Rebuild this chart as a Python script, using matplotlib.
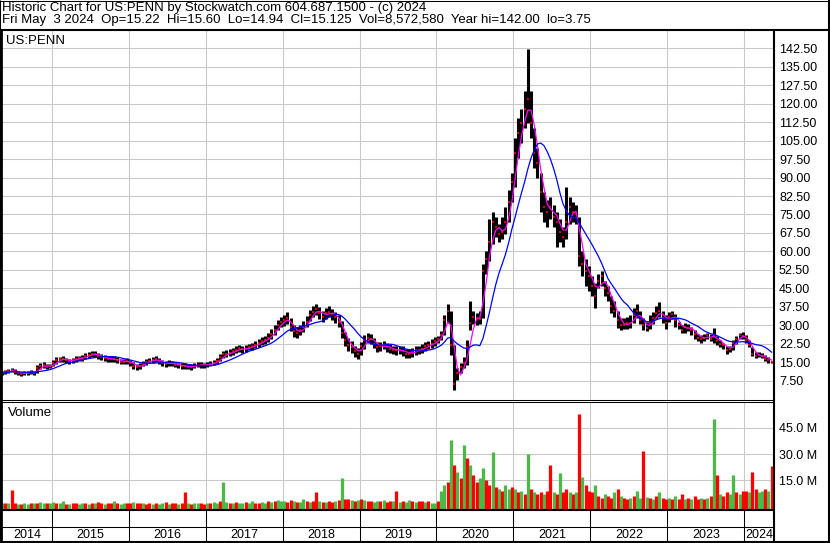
#!/usr/bin/env python3
"""Stockwatch-style historic chart for US:PENN (price bars, two MAs, volume)."""

import matplotlib.pyplot as plt
import numpy as np
import pandas as pd
from matplotlib.lines import Line2D

plt.rcParams["font.family"] = ["Liberation Sans", "DejaVu Sans"]

# half-month bars, May 2014 .. early May 2024
c2014 = [10.6, 10.9, 11.4, 11.9, 11.2, 10.6, 10.4, 10.6, 10.8, 10.9, 10.8, 12.6, 13.6, 13.8, 13.2, 13.5]
h2014 = [11.3, 11.7, 12.3, 12.8, 12.2, 11.5, 11.2, 11.3, 11.5, 11.7, 11.6, 13.8, 14.8, 15.0, 14.3, 14.4]
l2014 = [9.9, 10.1, 10.5, 10.9, 10.3, 9.8, 9.6, 9.8, 10.0, 10.2, 9.9, 10.5, 12.4, 12.6, 12.2, 12.5]

c2015 = [14.6, 15.8, 16.2, 16.4, 15.8, 15.4, 15.9, 16.4, 16.6, 16.8, 17.4, 18.0, 18.4, 18.2, 17.6, 17.0, 16.8, 16.4, 16.2, 16.3, 15.8, 15.3, 15.2, 15.5]
h2015 = [15.8, 17.0, 17.3, 17.4, 16.9, 16.5, 16.9, 17.4, 17.6, 17.9, 18.6, 19.3, 19.7, 19.5, 18.9, 18.3, 18.0, 17.6, 17.4, 17.5, 17.1, 16.5, 16.4, 16.6]
l2015 = [13.3, 14.4, 15.0, 15.1, 14.6, 14.3, 14.7, 15.3, 15.5, 15.7, 16.2, 16.7, 17.1, 17.0, 16.4, 15.8, 15.6, 15.3, 15.0, 15.1, 14.6, 14.2, 14.1, 14.3]

c2016 = [14.6, 13.6, 13.0, 13.6, 14.4, 15.2, 15.6, 15.9, 16.2, 15.5, 14.6, 14.2, 14.8, 14.5, 14.0, 13.7, 13.5, 13.4, 13.2, 13.0, 13.6, 14.0, 13.9, 13.8]
h2016 = [15.8, 15.0, 14.2, 14.7, 15.5, 16.3, 16.8, 17.1, 17.4, 16.8, 15.9, 15.4, 15.9, 15.7, 15.1, 14.8, 14.6, 14.5, 14.3, 14.1, 14.8, 15.1, 15.0, 14.9]
l2016 = [13.4, 12.4, 11.8, 12.4, 13.3, 14.0, 14.5, 14.8, 15.0, 14.3, 13.4, 13.1, 13.6, 13.4, 12.9, 12.6, 12.4, 12.3, 12.1, 11.9, 12.5, 12.9, 12.8, 12.7]

c2017 = [14.0, 14.4, 14.8, 15.5, 17.0, 18.2, 18.4, 18.8, 19.5, 20.0, 20.6, 20.2, 20.5, 21.2, 21.5, 22.0, 22.8, 23.6, 24.2, 25.0, 26.5, 28.2, 30.2, 31.4]
h2017 = [15.1, 15.5, 16.0, 16.8, 18.4, 19.6, 19.8, 20.2, 20.9, 21.4, 22.1, 21.7, 21.9, 22.6, 23.0, 23.5, 24.4, 25.2, 25.8, 26.8, 28.4, 30.2, 32.2, 33.4]
l2017 = [12.9, 13.3, 13.7, 14.3, 15.6, 16.8, 17.0, 17.4, 18.1, 18.6, 19.2, 18.8, 19.1, 19.8, 20.0, 20.6, 21.2, 22.0, 22.6, 23.2, 24.6, 26.2, 28.0, 29.2]

c2018 = [32.0, 33.0, 29.5, 27.5, 27.0, 28.0, 29.5, 31.5, 34.0, 35.5, 36.5, 35.0, 33.5, 34.8, 35.5, 34.6, 33.2, 31.5, 27.0, 24.0, 22.0, 21.0, 19.5, 18.5]
h2018 = [34.2, 35.3, 32.8, 30.3, 29.4, 30.3, 31.8, 33.8, 36.3, 37.8, 38.6, 37.6, 36.0, 37.0, 37.8, 36.8, 35.6, 34.3, 31.8, 27.3, 24.8, 23.8, 21.8, 20.8]
l2018 = [29.7, 30.7, 27.7, 25.4, 25.0, 26.0, 27.4, 29.2, 31.7, 33.2, 34.2, 32.7, 31.2, 32.4, 33.2, 32.2, 31.0, 29.2, 24.7, 21.7, 19.7, 18.8, 17.2, 16.2]

c2019 = [21.5, 24.0, 25.0, 24.5, 22.5, 21.0, 21.5, 22.0, 21.0, 20.5, 20.0, 19.8, 20.0, 19.5, 18.5, 18.5, 19.0, 19.8, 20.0, 20.5, 21.5, 22.0, 22.5, 23.5]
h2019 = [23.3, 26.0, 27.0, 26.4, 24.8, 23.2, 23.4, 23.8, 23.0, 22.4, 21.8, 21.6, 21.8, 21.4, 20.4, 20.2, 20.8, 21.6, 21.8, 22.3, 23.3, 23.8, 24.3, 25.3]
l2019 = [18.0, 20.4, 23.0, 22.6, 20.8, 19.2, 19.7, 20.2, 19.2, 18.8, 18.2, 18.0, 18.3, 17.7, 16.6, 16.8, 17.3, 18.0, 18.2, 18.7, 19.7, 20.2, 20.7, 21.7]

c2020 = [24.5, 26.0, 32.0, 36.0, 22.0, 6.0, 10.5, 13.0, 14.5, 21.0, 31.0, 33.5, 33.0, 32.5, 52.0, 57.0, 64.0, 72.0, 70.0, 67.0, 68.0, 72.0, 80.0, 88.0]
h2020 = [25.5, 27.5, 34.0, 38.5, 36.0, 22.0, 12.5, 14.5, 17.0, 24.0, 40.0, 36.0, 35.0, 36.0, 55.0, 60.0, 73.0, 76.0, 74.0, 71.0, 74.0, 78.0, 85.0, 92.0]
l2020 = [23.0, 24.0, 26.0, 31.0, 18.0, 3.75, 8.0, 10.5, 12.5, 14.0, 28.0, 30.5, 30.0, 30.5, 33.0, 51.0, 56.0, 63.0, 66.0, 64.0, 65.0, 67.0, 72.0, 80.0]

c2021 = [100.0, 108.0, 112.0, 118.0, 122.0, 112.0, 100.0, 96.0, 84.0, 78.0, 76.0, 78.0, 74.0, 72.0, 68.0, 66.0, 72.0, 78.0, 76.0, 75.0, 58.0, 55.0, 52.0, 50.0]
h2021 = [106.0, 114.0, 118.0, 125.0, 142.0, 125.0, 110.0, 102.0, 92.0, 84.0, 81.0, 82.0, 79.0, 76.0, 73.0, 70.0, 86.0, 82.0, 80.0, 79.0, 74.0, 60.0, 57.0, 54.0]
l2021 = [86.0, 98.0, 104.0, 110.0, 112.0, 106.0, 94.0, 90.0, 76.0, 72.0, 70.0, 73.0, 70.0, 62.0, 64.0, 62.0, 65.0, 71.0, 72.0, 71.0, 54.0, 50.0, 46.0, 44.0]

c2022 = [46.0, 42.0, 48.0, 50.0, 45.0, 43.0, 38.0, 36.0, 32.0, 30.0, 30.0, 31.0, 31.0, 34.0, 36.0, 32.0, 30.0, 29.0, 31.0, 33.0, 35.0, 36.0, 33.0, 31.0]
h2022 = [50.0, 47.0, 51.0, 52.0, 48.0, 46.0, 42.0, 40.0, 36.0, 33.0, 33.0, 33.5, 34.0, 37.0, 38.5, 36.0, 33.0, 31.5, 34.0, 35.5, 38.0, 39.5, 36.0, 34.0]
l2022 = [42.0, 37.0, 45.0, 46.0, 42.0, 40.0, 35.0, 33.5, 29.0, 28.0, 28.5, 28.5, 29.0, 31.0, 33.0, 30.5, 28.0, 27.5, 28.5, 30.5, 32.5, 33.5, 31.0, 28.5]

c2023 = [33.5, 34.5, 32.0, 30.0, 28.0, 29.5, 29.0, 28.0, 26.5, 25.0, 24.5, 25.0, 26.0, 24.5, 26.0, 23.5, 22.5, 22.0, 20.0, 20.5, 23.0, 24.5, 26.0, 25.8]
h2023 = [35.5, 36.0, 34.5, 31.5, 30.0, 31.0, 30.5, 29.5, 28.0, 26.5, 26.0, 26.5, 27.0, 26.5, 29.0, 25.5, 24.0, 23.0, 21.8, 21.5, 24.0, 25.5, 27.0, 27.2]
l2023 = [31.5, 32.5, 29.5, 28.5, 26.8, 27.0, 27.5, 26.0, 24.5, 23.5, 23.0, 23.5, 24.5, 23.5, 23.0, 22.0, 21.0, 20.5, 18.5, 19.0, 20.0, 22.5, 24.5, 24.5]

c2024 = [24.0, 22.0, 18.5, 17.5, 18.0, 17.5, 16.5, 16.0, 15.2]
h2024 = [26.0, 24.0, 21.0, 19.0, 19.2, 18.6, 17.8, 17.2, 15.6]
l2024 = [23.0, 21.0, 17.5, 16.8, 17.0, 16.6, 15.6, 14.8, 14.9]

# volume in millions, and up(u)/down(d) colouring per bar
v2014 = [1.8, 2.2, 2.0, 9.4, 1.8, 1.6, 1.5, 1.8, 1.6, 2.0, 1.8, 2.2, 2.5, 2.0, 1.8, 2.0]
v2015 = [2.5, 2.0, 1.8, 3.2, 1.6, 1.5, 2.0, 1.7, 1.6, 2.2, 1.8, 1.6, 2.0, 1.8, 2.5, 1.8, 1.6, 2.0, 1.7, 2.8, 1.8, 1.6, 2.0, 1.8]
v2016 = [2.2, 2.5, 2.0, 1.8, 2.2, 1.6, 1.8, 1.5, 2.0, 1.6, 1.8, 2.5, 1.6, 1.8, 2.0, 1.6, 1.8, 8.0, 1.8, 1.6, 2.2, 2.0, 1.8, 1.6]
v2017 = [2.0, 2.2, 2.5, 2.0, 2.8, 14.0, 2.5, 2.2, 2.0, 2.6, 2.2, 2.0, 2.4, 2.0, 2.8, 2.2, 2.0, 2.5, 2.2, 3.0, 2.6, 3.2, 3.5, 2.8]
v2018 = [3.0, 2.6, 3.5, 3.0, 2.6, 2.4, 4.0, 2.8, 2.6, 3.0, 8.0, 2.8, 2.6, 2.4, 3.0, 2.6, 2.8, 3.5, 16.0, 4.5, 4.0, 3.5, 3.2, 3.5]
v2019 = [4.0, 3.5, 3.0, 2.8, 2.6, 3.0, 2.8, 3.5, 2.6, 3.0, 2.8, 9.0, 2.6, 3.0, 2.6, 3.5, 2.8, 2.6, 3.0, 2.8, 2.4, 3.2, 2.2, 2.0]
v2020 = [3.0, 9.0, 12.0, 14.0, 38.0, 24.0, 20.0, 16.0, 35.0, 28.0, 24.0, 18.0, 14.0, 16.0, 22.0, 15.0, 12.0, 31.0, 11.0, 10.0, 9.0, 12.0, 10.0, 11.0]
v2021 = [10.0, 8.0, 9.0, 7.0, 30.0, 10.0, 8.0, 7.0, 8.0, 7.0, 9.0, 24.0, 8.0, 7.0, 19.0, 8.0, 10.0, 8.0, 7.0, 8.0, 53.0, 17.0, 12.0, 9.0]
v2022 = [8.0, 12.0, 6.0, 5.0, 7.0, 6.0, 5.0, 8.0, 10.0, 6.0, 5.0, 4.5, 5.0, 6.0, 9.0, 5.0, 32.0, 5.5, 5.0, 4.5, 6.0, 8.0, 5.0, 4.5]
v2023 = [5.0, 4.5, 6.0, 4.0, 7.0, 4.5, 5.0, 4.0, 6.0, 4.5, 5.0, 4.0, 5.0, 6.0, 50.0, 18.0, 7.0, 6.0, 8.0, 7.0, 18.0, 8.0, 7.0, 9.0]
v2024 = [9.0, 8.0, 20.0, 10.0, 8.0, 9.0, 10.0, 9.0, 23.0]

updown = (
    "ududduduududuudu"
    "uduududduudududdudduduud"
    "duddudduduududdudduduudd"
    "uduuduududuuduudduududuu"
    "uddudu" "ududdu" "duddud" "uddudu"
    "dudduu" "duddud" "uduudu" "dduduu"
    "duudud" "ududud" "duuddu" "duduud"
    "ududud" "uddudd" "ududdu" "dududd"
    "duddud" "dududd" "uduudu" "dududd"
    "ududdu" "duddud" "ududud" "duudud"
    "dudduudud"
)

close = np.array(c2014 + c2015 + c2016 + c2017 + c2018 + c2019 + c2020 + c2021 + c2022 + c2023 + c2024)
high = np.array(h2014 + h2015 + h2016 + h2017 + h2018 + h2019 + h2020 + h2021 + h2022 + h2023 + h2024)
low = np.array(l2014 + l2015 + l2016 + l2017 + l2018 + l2019 + l2020 + l2021 + l2022 + l2023 + l2024)
volume = np.array(v2014 + v2015 + v2016 + v2017 + v2018 + v2019 + v2020 + v2021 + v2022 + v2023 + v2024)

price_ticks = [7.5 * k for k in range(1, 20)]
vol_ticks = [15, 30, 45]
years = list(range(2014, 2025))

HEADER_1 = "Historic Chart for US:PENN by Stockwatch.com 604.687.1500 - (c) 2024"
HEADER_2 = ("Fri May  3 2024  Op=15.22  Hi=15.60  Lo=14.94  Cl=15.125  "
            "Vol=8,572,580  Year hi=142.00  lo=3.75")

# ---------------------------------------------------------------- layout
W, H = 830, 543
X0, X1 = 2, 774
XLIM = (2014.3545, 2024.3857)
VMIN = -2.1
GRID = "#c8c8c8"
GREEN = "#4cb848"

t = 2014 + 4 / 12 + 1 / 48 + np.arange(len(close)) / 24
ma_fast = pd.Series(close).rolling(3, min_periods=1).mean()
ma_slow = pd.Series(close).rolling(10, min_periods=1).mean()

fig = plt.figure(figsize=(W / 100, H / 100), dpi=100)


def box(top, bottom):
    return [X0 / W, 1 - bottom / H, (X1 - X0) / W, (bottom - top) / H]


def line(xs, ys, lw):
    fig.add_artist(Line2D([x / W for x in xs], [1 - y / H for y in ys],
                          color="black", lw=lw, solid_capstyle="butt",
                          transform=fig.transFigure, zorder=10))


def text(x, y, s, size=9.5, **kw):
    fig.text(x / W, 1 - y / H, s, fontsize=size, va="center", color="black", **kw)


ax = fig.add_axes(box(30.5, 399.5))
axv = fig.add_axes(box(401.5, 510))
axy = fig.add_axes(box(510, 541.5))

# price panel
ax.set_xlim(*XLIM)
ax.set_ylim(-0.12, 149.7)
ax.vlines(t, low, high, color="black", lw=2.2, zorder=3)
ax.plot(t, close, ls="none", marker="_", ms=2.0, mew=1.2, color="red", zorder=4)
ax.plot(t, ma_fast, color="#ff00ff", lw=0.9, zorder=5)
ax.plot(t, ma_slow, color="#0000ff", lw=0.9, zorder=6)
ax.set_yticks(price_ticks)
ax.set_yticklabels([f"{v:.2f}" for v in price_ticks])
ax.yaxis.tick_right()
ax.set_xticks(years[1:])
ax.tick_params(length=0, labelbottom=False, labelsize=9, pad=3.6)
ax.grid(color=GRID, lw=0.75)
ax.set_axisbelow(True)

# volume panel
axv.set_xlim(*XLIM)
axv.set_ylim(VMIN, 60.2)
colors = [GREEN if c == "u" else "red" for c in updown]
axv.vlines(t, VMIN, volume, colors=colors, lw=2.35, capstyle="butt", zorder=3)
axv.set_yticks(vol_ticks)
axv.set_yticklabels([f"{v:.1f} M" for v in vol_ticks])
axv.yaxis.tick_right()
axv.set_xticks(years[1:])
axv.tick_params(length=0, labelbottom=False, labelsize=9, pad=3.6)
axv.grid(color=GRID, lw=0.75)
axv.set_axisbelow(True)

# year strip
axy.set_xlim(*XLIM)
axy.set_ylim(0, 1)
axy.vlines(years[1:], 0, 1, color="black", lw=0.75)
axy.axhline((541.5 - 526.7) / 31.5, color="black", lw=0.75)
for yr in years:
    mid = (max(yr, XLIM[0]) + min(yr + 1, XLIM[1])) / 2
    axy.text(mid, (541.5 - 534.5) / 31.5, str(yr), ha="center", va="center", fontsize=9)
axy.set_xticks([])
axy.set_yticks([])

for a in (ax, axv, axy):
    for s in a.spines.values():
        s.set_visible(False)

# frame
line([0, W], [0.5, 0.5], 0.75)
line([0, W], [29.5, 29.5], 1.5)
line([0, X1], [399.5, 399.5], 0.75)
line([0, X1], [401.5, 401.5], 0.75)
line([0, X1], [510, 510], 1.5)
line([0, W], [541.8, 541.8], 1.5)
line([1, 1], [29, H], 2)
line([0.4, 0.4], [0, H], 0.75)
line([X1, X1], [29, 542], 1.5)
line([829, 829], [0, H], 1.5)

text(2, 8, HEADER_1)
text(2, 20.5, HEADER_2)
text(6, 41.5, "US:PENN")
text(8, 413, "Volume")

fig.savefig("out.png", dpi=100)
